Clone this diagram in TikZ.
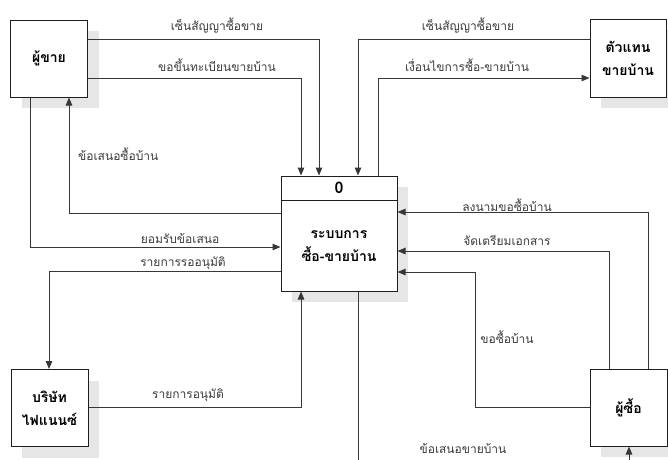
\documentclass[tikz,border=0pt]{standalone}
\usepackage{fontspec}
\setmainfont[Script=Thai]{Loma}
\usetikzlibrary{arrows.meta,shadows}
\definecolor{dfdbox}{RGB}{30,30,30}
\definecolor{dfdline}{RGB}{55,55,55}
\definecolor{dfdtext}{RGB}{60,60,60}
\definecolor{dfdshadow}{RGB}{230,230,230}
\begin{document}
\begin{tikzpicture}[yscale=-1
,ent/.style={draw=dfdbox,fill=white,line width=1pt,minimum width=77pt,minimum height=77pt,align=center,font=\bfseries\fontsize{14}{23}\selectfont,drop shadow={shadow xshift=11pt,shadow yshift=-11pt,fill=dfdshadow,opacity=1}}
,flow/.style={color=dfdline,line width=1pt,-{Triangle[length=8pt,width=6.5pt]}}
,lbl/.style={color=dfdtext,font=\fontsize{12}{14}\selectfont,inner sep=1pt}
]
\clip (0pt,0pt) rectangle (668pt,459pt);
\fill[white] (0pt,0pt) rectangle (668pt,459pt);
% external entities
\node[ent] (seller) at (49pt,58.5pt) {ผู้ขาย};
\node[ent,minimum width=76pt,minimum height=78pt] (agent) at (628pt,58pt) {ตัวแทน\\ขายบ้าน};
\node[ent] (finance) at (49.5pt,408pt) {บริษัท\\ไฟแนนซ์};
\node[ent] (buyer) at (628.5pt,407.5pt) {ผู้ซื้อ};
% process
\node[ent,minimum width=116pt,minimum height=115pt] (proc) at (339pt,233.5pt) {};
\draw[color=dfdbox,line width=1pt] (proc.west |- 0,200pt) -- (proc.east |- 0,200pt);
\node[font=\bfseries\fontsize{16}{18}\selectfont] (procno) at (339pt,188pt) {0};
\node[align=center,font=\bfseries\fontsize{14}{23}\selectfont] (procname) at (339pt,246pt) {ระบบการ\\ซื้อ-ขายบ้าน};
% flows
\draw[flow] (seller.east |- 0,39pt) -| (proc.north -| 319pt,0);
\node[lbl] (l1) at (217pt,26pt) {เซ็นสัญญาซื้อขาย};
\draw[flow] (seller.east |- 0,78pt) -| (proc.north -| 301pt,0);
\node[lbl] (l2) at (217pt,65pt) {ขอขึ้นทะเบียนขายบ้าน};
\draw[flow] (proc.west |- 0,213pt) -| (seller.south -| 69pt,0);
\node[lbl,anchor=west] (l3) at (77pt,154pt) {ข้อเสนอซื้อบ้าน};
\draw[flow] (seller.south -| 30pt,0) |- (proc.west |- 0,247pt);
\node[lbl] (l4) at (180pt,239pt) {ยอมรับข้อเสนอ};
\draw[flow] (proc.west |- 0,271pt) -| (finance.north -| 49pt,0);
\node[lbl] (l5) at (183pt,263pt) {รายการรออนุมัติ};
\draw[flow] (finance.east |- 0,407pt) -| (proc.south -| 301pt,0);
\node[lbl] (l6) at (188pt,395pt) {รายการอนุมัติ};
\draw[flow] (agent.west |- 0,39pt) -| (proc.north -| 358pt,0);
\node[lbl] (l7) at (468pt,26pt) {เซ็นสัญญาซื้อขาย};
\draw[flow] (proc.north -| 378pt,0) |- (agent.west |- 0,78pt);
\node[lbl] (l8) at (467pt,65pt) {เงื่อนไขการซื้อ-ขายบ้าน};
\draw[flow] (buyer.north -| 648pt,0) |- (proc.east |- 0,212pt);
\node[lbl] (l9) at (507pt,205pt) {ลงนามขอซื้อบ้าน};
\draw[flow] (buyer.north -| 609pt,0) |- (proc.east |- 0,251pt);
\node[lbl] (l10) at (507pt,240pt) {จัดเตรียมเอกสาร};
\draw[flow] (buyer.west |- 0,407pt) -| (475pt,272pt) -- (proc.east |- 0,272pt);
\node[lbl] (l11) at (507pt,337pt) {ขอซื้อบ้าน};
\draw[flow] (proc.south -| 358pt,0) -- (358pt,480pt) -| (buyer.south -| 629pt,0);
\node[lbl] (l12) at (463pt,449pt) {ข้อเสนอขายบ้าน};
\end{tikzpicture}
\end{document}
